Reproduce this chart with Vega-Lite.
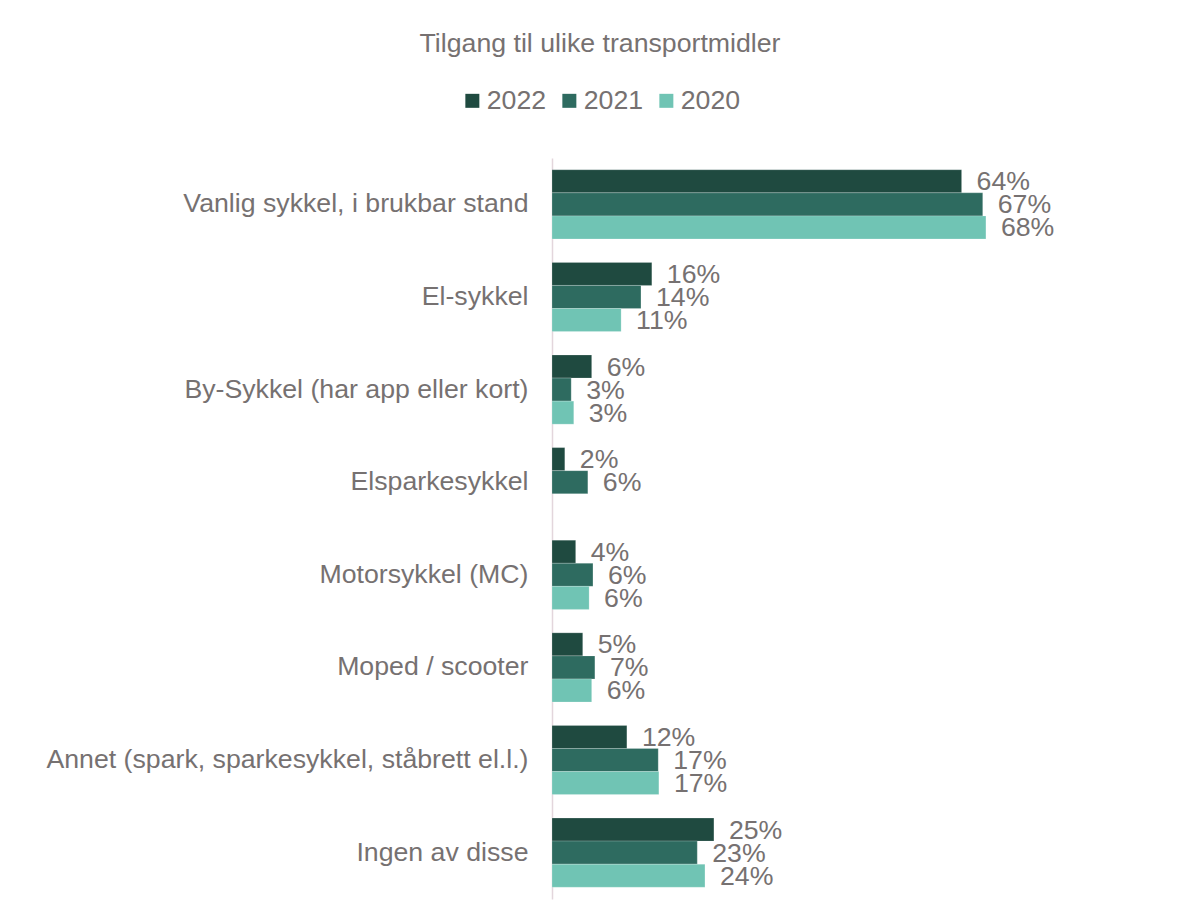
{
  "$schema": "https://vega.github.io/schema/vega-lite/v6.json",
  "autosize": "none",
  "width": 576,
  "height": 741,
  "padding": {"left": 552, "top": 158, "right": 58, "bottom": 4},
  "background": "white",
  "title": {
    "text": "Tilgang til ulike transportmidler",
    "anchor": "middle",
    "dx": -240,
    "offset": 29,
    "fontSize": 26.7,
    "font": "Liberation Sans",
    "fontWeight": "normal",
    "color": "#767171"
  },
  "data": {
    "values": [
      {"kategori": "Vanlig sykkel, i brukbar stand", "år": "2022", "andel": 0.640},
      {"kategori": "Vanlig sykkel, i brukbar stand", "år": "2021", "andel": 0.673},
      {"kategori": "Vanlig sykkel, i brukbar stand", "år": "2020", "andel": 0.678},
      {"kategori": "El-sykkel", "år": "2022", "andel": 0.156},
      {"kategori": "El-sykkel", "år": "2021", "andel": 0.139},
      {"kategori": "El-sykkel", "år": "2020", "andel": 0.108},
      {"kategori": "By-Sykkel (har app eller kort)", "år": "2022", "andel": 0.062},
      {"kategori": "By-Sykkel (har app eller kort)", "år": "2021", "andel": 0.030},
      {"kategori": "By-Sykkel (har app eller kort)", "år": "2020", "andel": 0.034},
      {"kategori": "Elsparkesykkel", "år": "2022", "andel": 0.020},
      {"kategori": "Elsparkesykkel", "år": "2021", "andel": 0.056},
      {"kategori": "Motorsykkel (MC)", "år": "2022", "andel": 0.037},
      {"kategori": "Motorsykkel (MC)", "år": "2021", "andel": 0.064},
      {"kategori": "Motorsykkel (MC)", "år": "2020", "andel": 0.058},
      {"kategori": "Moped / scooter", "år": "2022", "andel": 0.048},
      {"kategori": "Moped / scooter", "år": "2021", "andel": 0.067},
      {"kategori": "Moped / scooter", "år": "2020", "andel": 0.062},
      {"kategori": "Annet (spark, sparkesykkel, ståbrett el.l.)", "år": "2022", "andel": 0.117},
      {"kategori": "Annet (spark, sparkesykkel, ståbrett el.l.)", "år": "2021", "andel": 0.166},
      {"kategori": "Annet (spark, sparkesykkel, ståbrett el.l.)", "år": "2020", "andel": 0.167},
      {"kategori": "Ingen av disse", "år": "2022", "andel": 0.253},
      {"kategori": "Ingen av disse", "år": "2021", "andel": 0.227},
      {"kategori": "Ingen av disse", "år": "2020", "andel": 0.239}
    ]
  },
  "encoding": {
    "y": {
      "field": "kategori",
      "type": "nominal",
      "sort": null,
      "scale": {"paddingInner": 0.253, "paddingOuter": 0.127},
      "axis": {
        "title": null,
        "ticks": false,
        "labelPadding": 24,
        "labelFontSize": 26.7,
        "labelFont": "Liberation Sans",
        "labelColor": "#767171",
        "domainColor": "#e3d6dc",
        "domainWidth": 1.5,
        "labelLimit": 600
      }
    },
    "yOffset": {
      "field": "år",
      "type": "nominal",
      "sort": ["2022", "2021", "2020"],
      "scale": {"paddingInner": 0, "paddingOuter": 0}
    },
    "x": {
      "field": "andel",
      "type": "quantitative",
      "scale": {"domain": [0, 0.9], "nice": false},
      "axis": null
    }
  },
  "layer": [
    {
      "mark": {"type": "bar", "stroke": "white", "strokeWidth": 0.5, "strokeOpacity": 0.4},
      "encoding": {
        "color": {
          "field": "år",
          "type": "nominal",
          "sort": ["2022", "2021", "2020"],
          "scale": {"domain": ["2022", "2021", "2020"], "range": ["#1f4a40", "#2e6b60", "#70c4b4"]},
          "legend": {
            "title": null,
            "orient": "none",
            "direction": "horizontal",
            "legendX": -93,
            "legendY": -71,
            "symbolType": "square",
            "symbolSize": 196,
            "symbolStrokeWidth": 0,
            "symbolOpacity": 1,
            "labelFontSize": 26.7,
            "labelFont": "Liberation Sans",
            "labelColor": "#767171",
            "labelOffset": 1,
            "columnPadding": 9
          }
        }
      }
    },
    {
      "mark": {
        "type": "text",
        "align": "left",
        "baseline": "middle",
        "dx": 15,
        "dy": 1,
        "fontSize": 26.7,
        "font": "Liberation Sans",
        "color": "#767171"
      },
      "encoding": {
        "text": {"field": "andel", "type": "quantitative", "format": ".0%"}
      }
    }
  ],
  "config": {"view": {"stroke": null}}
}
